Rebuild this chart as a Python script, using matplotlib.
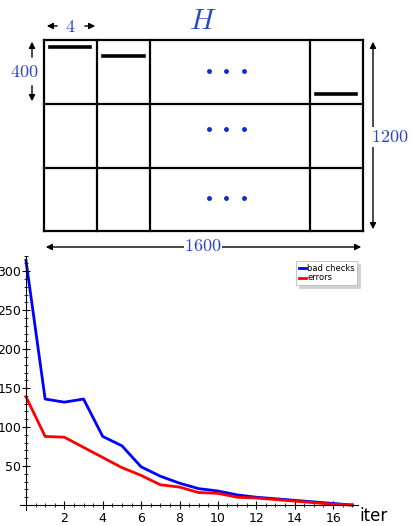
import matplotlib
matplotlib.use("Agg")
import matplotlib.pyplot as plt
from matplotlib.ticker import MultipleLocator

plt.rcParams['mathtext.fontset'] = 'cm'

# data: iterations vs counts
iters = list(range(18))
bad_checks = [314, 136, 132, 136, 88, 76, 49, 37, 28, 21, 18, 13, 10, 8, 6, 4, 2, 0]
errors = [139, 88, 87, 74, 61, 48, 38, 26, 23, 16, 15, 10, 9, 7, 5, 3, 1, 0]

# schematic of H (pixel layout of the top drawing)
col_edges = [44, 97, 150, 310, 363]
row_edges = [40, 104, 168, 231]
dash_marks = [(50, 90, 47), (103, 144, 56), (316, 356, 94)]
dot_x = [209, 226, 244]
dot_rows = [71, 129, 198]

blue_txt = '#2b45c8'

fig = plt.figure(figsize=(4.12, 5.26), dpi=100)

# --- top drawing ---
ax0 = fig.add_axes([0, 0, 1, 1])
ax0.set_xlim(0, 412)
ax0.set_ylim(526, 0)
ax0.axis('off')

for x in col_edges:
    ax0.plot([x, x], [row_edges[0], row_edges[-1]], color='black', lw=1.6)
for y in row_edges:
    ax0.plot([col_edges[0], col_edges[-1]], [y, y], color='black', lw=1.6)
for x1, x2, y in dash_marks:
    ax0.plot([x1, x2], [y, y], color='black', lw=2.6)
for y in dot_rows:
    ax0.plot(dot_x, [y] * 3, 'o', color='#0a2fd0', ms=2.5)

ax0.text(203, 21, r'$H$', color=blue_txt, fontsize=21, ha='center', va='center')
ax0.text(70, 27, r'$4$', color=blue_txt, fontsize=13, ha='center', va='center')
ax0.text(24, 72, r'$400$', color=blue_txt, fontsize=13, ha='center', va='center')

arr = dict(arrowstyle='-|>', color='black', lw=1, mutation_scale=9)
ax0.annotate('', xy=(44, 26), xytext=(60, 26), arrowprops=arr)
ax0.annotate('', xy=(98, 26), xytext=(82, 26), arrowprops=arr)
ax0.annotate('', xy=(32, 39), xytext=(32, 60), arrowprops=arr)
ax0.annotate('', xy=(32, 104), xytext=(32, 83), arrowprops=arr)

arr2 = dict(arrowstyle='<|-|>', color='black', lw=1, mutation_scale=9)
ax0.annotate('', xy=(373, 39), xytext=(373, 232), arrowprops=arr2)
ax0.annotate('', xy=(43, 247), xytext=(364, 247), arrowprops=arr2)
ax0.text(390, 137, r'$1200$', color=blue_txt, fontsize=13, ha='center', va='center',
         bbox=dict(facecolor='white', edgecolor='none', pad=1))
ax0.text(203, 246, r'$1600$', color=blue_txt, fontsize=13, ha='center', va='center',
         bbox=dict(facecolor='white', edgecolor='none', pad=0.5))

# --- bottom plot ---
ax = fig.add_axes([0.049, 0.031, 0.820, 0.483])
ax.patch.set_alpha(0)
ax.plot(iters, bad_checks, color='blue', lw=2, label='bad checks')
ax.plot(iters, errors, color='red', lw=2, label='errors')
ax.set_xlim(-0.3, 17.3)
ax.set_ylim(-6, 320)

ax.spines['left'].set_position(('data', 0))
ax.spines['bottom'].set_position(('data', 0))
ax.spines['top'].set_visible(False)
ax.spines['right'].set_visible(False)
ax.set_xticks(range(2, 17, 2))
ax.set_yticks(range(50, 301, 50))
ax.xaxis.set_minor_locator(MultipleLocator(0.5))
ax.yaxis.set_minor_locator(MultipleLocator(10))
ax.tick_params(which='major', direction='inout', length=6, width=0.8, labelsize=9)
ax.tick_params(which='minor', direction='inout', length=3, width=0.6)
ax.tick_params(axis='y', which='major', pad=0.5)
ax.tick_params(axis='x', which='major', pad=2)

ax.text(17.35, -2, 'iter', fontsize=12, ha='left', va='top', clip_on=False)

leg = ax.legend(loc='upper left', bbox_to_anchor=(292 / 412, 1 - 257 / 526),
                bbox_transform=fig.transFigure, fontsize=6, handlelength=0.9,
                handletextpad=0.1, borderpad=0.3, labelspacing=0.1,
                fancybox=False, framealpha=1,
                shadow={'color': '0.82', 'alpha': 1})
leg.get_frame().set_edgecolor('#bbbbbb')
leg.get_frame().set_linewidth(0.6)

fig.savefig('out.png', dpi=100)
